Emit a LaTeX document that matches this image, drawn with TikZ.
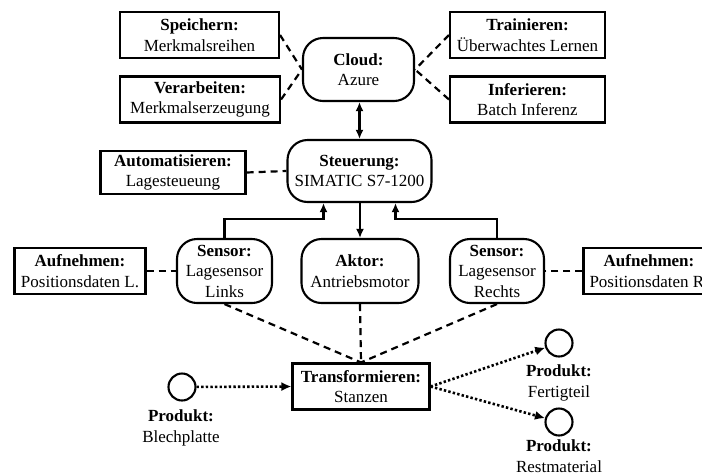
\documentclass[tikz,border=0pt]{standalone}
\usepackage{fontspec}
\setmainfont{Liberation Serif}
\usetikzlibrary{arrows.meta}
\begin{document}
\begin{tikzpicture}[x=1pt,y=-1pt,
  every node/.style={font=\fontsize{17}{20.5}\selectfont, align=center, inner sep=0pt},
  box/.style={draw, line width=2.1pt, rectangle, minimum width=#1, minimum height=46pt},
  rbox/.style={draw, line width=2.1pt, rectangle, rounded corners=20pt, minimum width=#1, minimum height=63pt},
  prod/.style={draw, line width=2.1pt, circle, minimum size=27pt},
  dsh/.style={line width=2.2pt, dash pattern=on 7pt off 5pt},
  dts/.style={line width=2.6pt, dash pattern=on 2.4pt off 2.2pt, -{Latex[length=10pt,width=9pt]}},
  arr/.style={line width=2.1pt, -{Latex[length=9pt,width=8pt]}},
  darr/.style={line width=2.1pt, {Latex[length=9pt,width=8pt]}-{Latex[length=9pt,width=8pt]}}
]
\useasboundingbox (0,0) rectangle (702,475);
\clip (0,0) rectangle (702,475);
\fill[white] (0,0) rectangle (702,475);

\node[box=159pt] (speich) at (199.5,35) {\textbf{Speichern:}\\Merkmalsreihen};
\node[box=160pt] (verarb) at (200,99.5) {\textbf{Verarbeiten:}\\Merkmalserzeugung};
\node[rbox=111pt] (cloud) at (358.5,69.5) {\textbf{Cloud:}\\Azure};
\node[box=155pt] (train) at (527.5,35) {\textbf{Trainieren:}\\Überwachtes Lernen};
\node[box=155pt] (infer) at (527.5,99.5) {\textbf{Inferieren:}\\Batch Inferenz};

\node[box=145pt, minimum height=43pt] (autom) at (173,172.5) {\textbf{Automatisieren:}\\Lagesteueung};
\node[rbox=144pt, minimum height=62pt] (st) at (359.5,171) {\textbf{Steuerung:}\\SIMATIC S7-1200};

\node[rbox=95pt, minimum height=64pt] (sl) at (224.5,271) {\textbf{Sensor:}\\Lagesensor\\Links};
\node[rbox=117pt, minimum height=64pt] (ak) at (360,271) {\textbf{Aktor:}\\Antriebsmotor};
\node[rbox=94pt, minimum height=64pt] (sr) at (497,271) {\textbf{Sensor:}\\Lagesensor\\Rechts};
\node[box=131pt] (aufl) at (80,271) {\textbf{Aufnehmen:}\\Positionsdaten L.};
\node[box=131pt] (aufr) at (649,271) {\textbf{Aufnehmen:}\\Positionsdaten R.};

\node[box=137pt] (tr) at (361,386.5) {\textbf{Transformieren:}\\Stanzen};

\node[prod] (c1) at (182,387) {};
\node[prod] (c2) at (559,343) {};
\node[prod] (c3) at (559,422) {};
\node (l1) at (181,428) {\textbf{Produkt:}\\Blechplatte};
\node (l2) at (559,383) {\textbf{Produkt:}\\Fertigteil};
\node (l3) at (559,456) {\textbf{Produkt:}\\Restmaterial};

% dashed relations
\draw[dsh] (speich.east) -- (cloud.west);
\draw[dsh] (verarb.east) -- (cloud.west);
\draw[dsh] (train.west) -- (cloud.east);
\draw[dsh] (infer.west) -- (cloud.east);
\draw[dsh] (autom.east) -- (st.west);
\draw[dsh] (aufl.east) -- (sl.west);
\draw[dsh] (aufr.west) -- (sr.east);
\draw[dsh] (sl.south) -- (tr.north);
\draw[dsh] (ak.south) -- (tr.north);
\draw[dsh] (sr.south) -- (tr.north);

% control arrows
\draw[darr] (cloud.south -| st.north) -- (st.north);
\draw[arr] (st.south -| ak.north) -- (ak.north);
\draw[arr] (sl.north) -- ++(0,-19) -| ([xshift=-36pt]st.south);
\draw[arr] (sr.north) -- ++(0,-19) -| ([xshift=36pt]st.south);

% material flow
\draw[dts] (c1) -- (tr.west);
\draw[dts] (tr.east) -- (c2);
\draw[dts] (tr.east) -- (c3);
\end{tikzpicture}
\end{document}
